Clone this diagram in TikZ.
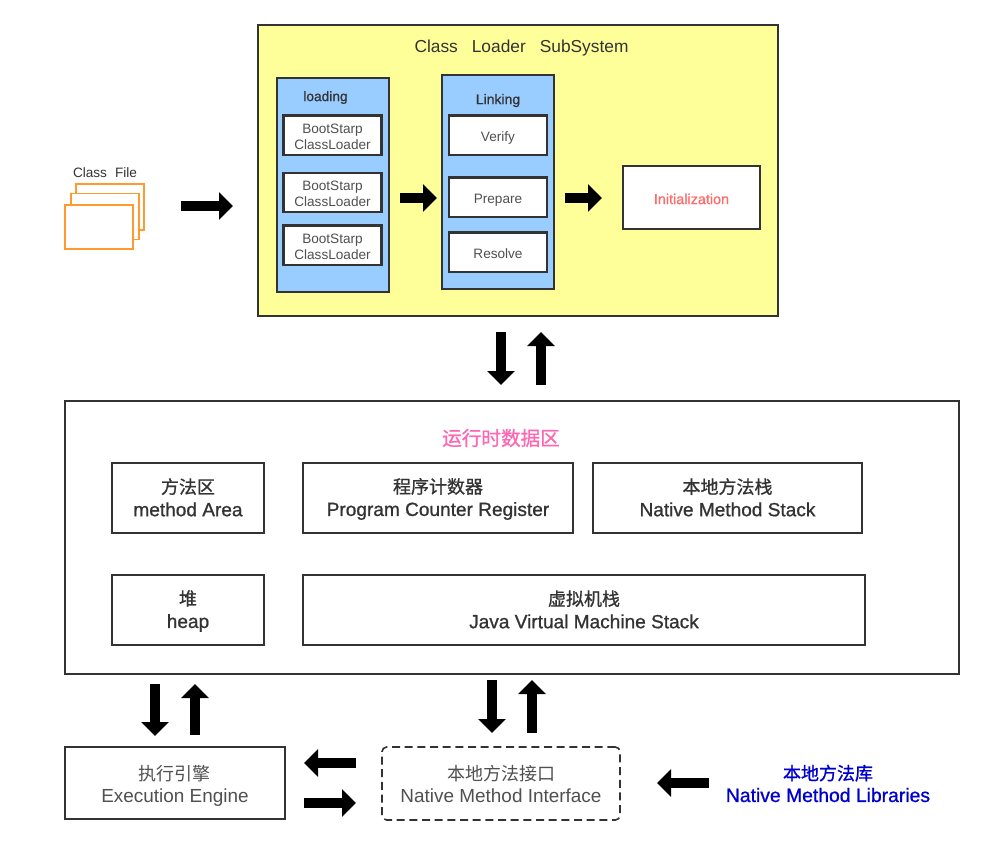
\documentclass[tikz,border=0pt]{standalone}
\usepackage{fontspec}
\setmainfont{Liberation Sans}
\newfontfamily\medfont[FakeBold=0.9]{Liberation Sans}
\newfontfamily\cjk{Noto Sans CJK SC}
\newfontfamily\medcjk[FakeBold=0.9]{Noto Sans CJK SC}
\usetikzlibrary{arrows.meta}
\definecolor{edge}{HTML}{333333}
\definecolor{txt}{HTML}{333333}
\definecolor{softtxt}{HTML}{505050}
\definecolor{yel}{HTML}{FFFF99}
\definecolor{blu}{HTML}{99CCFF}
\definecolor{org}{HTML}{FF9A2E}
\definecolor{pnk}{HTML}{FF66B3}
\definecolor{red1}{HTML}{FF6B6B}
\definecolor{nav}{HTML}{0000CC}
\newcommand{\topk}{0.8}
\newcommand{\topstrut}{\rule{0pt}{\topk em}}
\newcommand{\botstrut}{\rule[-0.18em]{0pt}{0.18em}}
\newcommand{\two}[2]{\topstrut #1\\#2\botstrut}
\newcommand{\cn}[1]{{\cjk\fontsize{13.5}{16.5}\selectfont #1}}
\newcommand{\cnm}[1]{{\medcjk\fontsize{13.5}{17}\selectfont #1}}
\tikzset{
 x=0.75pt,y=-0.75pt,
 box/.style={draw=edge,line width=1.5pt,fill=white,inner sep=0pt,outer sep=0pt,align=center,text=txt,anchor=north west},
 smallbox/.style={box,font=\fontsize{10.2}{12}\selectfont\renewcommand{\topk}{1.1},text=softtxt,line width=1.6pt},
 panel/.style={box,fill=blu,line width=1.5pt},
 bigbox/.style={box,font=\medfont\fontsize{14.3}{17}\selectfont\renewcommand{\topk}{0.9}},
 lightbox/.style={box,line width=1.2pt,font=\fontsize{14.2}{16.5}\selectfont\renewcommand{\topk}{1.07},text=softtxt},
 filebox/.style={draw=org,line width=1.3pt,fill=white,inner sep=0pt,outer sep=0pt,anchor=north west},
 label/.style={inner sep=0pt,outer sep=0pt,align=center},
 blockarrow/.style={draw=black,line width=7pt,-{Triangle[length=10.5pt,width=20pt]}},
}
\begin{document}
\begin{tikzpicture}
\useasboundingbox (0,0) rectangle (983,844);
% Class files
\node[filebox,minimum width=51pt,minimum height=34.5pt] (f3) at (76,184) {};
\node[filebox,minimum width=51pt,minimum height=34.5pt] (f2) at (71,193.5) {};
\node[filebox,minimum width=51pt,minimum height=33pt] (f1) at (65,205) {};
\node[label,text=txt,font=\fontsize{10.2}{11}\selectfont] (cf) at (105,172.5) {Class\hspace{6pt}File};
% Class loader subsystem
\node[box,fill=yel,minimum width=390pt,minimum height=218.25pt] (cls) at (258,25) {};
\node[label,text=txt,font=\fontsize{13}{14}\selectfont] (clst) at (521.5,47.5) {\topstrut Class\hspace{10.5pt}Loader\hspace{10.5pt}SubSystem\botstrut};
\node[panel,minimum width=84pt,minimum height=160.5pt] (load) at (276.5,78) {};
\node[label,text=txt,font=\medfont\fontsize{10.3}{11}\selectfont] (loadt) at (325.5,97) {\topstrut loading\botstrut};
\node[smallbox,minimum width=73.5pt,minimum height=29.5pt] (b1) at (283.5,115.5) {\two{BootStarp}{ClassLoader}};
\node[smallbox,minimum width=73.5pt,minimum height=29.5pt] (b2) at (283.5,173) {\two{BootStarp}{ClassLoader}};
\node[smallbox,minimum width=73.5pt,minimum height=29.5pt] (b3) at (283.5,225.5) {\two{BootStarp}{ClassLoader}};
\node[panel,minimum width=84pt,minimum height=160.5pt] (link) at (442,75) {};
\node[label,text=txt,font=\medfont\fontsize{10.5}{11}\selectfont] (linkt) at (498,100) {\topstrut Linking\botstrut};
\node[smallbox,minimum width=73.5pt,minimum height=29.5pt] (v) at (449,115.5) {\topstrut Verify\botstrut};
\node[smallbox,minimum width=73.5pt,minimum height=29.5pt] (p) at (449,177.5) {\topstrut Prepare\botstrut};
\node[smallbox,minimum width=73.5pt,minimum height=29.5pt] (r) at (449,232.5) {\topstrut Resolve\botstrut};
\node[box,minimum width=102.75pt,minimum height=47.25pt,text=red1,font=\medfont\fontsize{10.8}{11}\selectfont\renewcommand{\topk}{1.1},line width=1.3pt] (init) at (623,166) {\topstrut Initialization\botstrut};
% Runtime data area
\node[box,minimum width=670.5pt,minimum height=204.75pt] (rt) at (65,401) {};
\node[label,text=pnk,font=\medcjk\fontsize{14.7}{16}\selectfont] (rtt) at (501,438) {运行时数据区};
\node[bigbox,minimum width=114pt,minimum height=52.5pt] (m1) at (112,463) {\two{\cnm{方法区}}{method Area}};
\node[bigbox,minimum width=202.5pt,minimum height=52.5pt] (m2) at (303,463) {\two{\cnm{程序计数器}}{Program Counter Register}};
\node[bigbox,minimum width=201.75pt,minimum height=52.5pt] (m3) at (593,463) {\two{\cnm{本地方法栈}}{Native Method Stack}};
\node[bigbox,minimum width=114pt,minimum height=52.5pt] (m4) at (112,575) {\two{\cnm{堆}}{heap}};
\node[bigbox,minimum width=421.5pt,minimum height=52.5pt] (m5) at (303,575) {\two{\cnm{虚拟机栈}}{Java Virtual Machine Stack}};
% Bottom row
\node[lightbox,minimum width=165pt,minimum height=54pt] (ee) at (65,747) {\two{\cn{执行引擎}}{Execution Engine}};
\node[lightbox,dashed,rounded corners=3.5pt,dash pattern=on 6pt off 3.5pt,minimum width=178.5pt,minimum height=54.75pt] (nmi) at (382,747) {\two{\cn{本地方法接口}}{Native Method Interface}};
\node[label,text=nav,font=\medfont\fontsize{14.5}{16.5}\selectfont\renewcommand{\topk}{0.9}] (nml) at (828,784) {\two{\cnm{本地方法库}}{Native Method Libraries}};
% Block arrows
\coordinate (a1s) at (181,206); \coordinate (a1e) at (233,206);
\coordinate (a2s) at (400,198); \coordinate (a2e) at (437,198);
\coordinate (a3s) at (565,198); \coordinate (a3e) at (602,198);
\coordinate (a4s) at (501,332); \coordinate (a4e) at (501,385);
\coordinate (a5s) at (541,385); \coordinate (a5e) at (541,332);
\coordinate (a6s) at (155,684); \coordinate (a6e) at (155,736);
\coordinate (a7s) at (195,735); \coordinate (a7e) at (195,684);
\coordinate (a8s) at (492,680); \coordinate (a8e) at (492,733);
\coordinate (a9s) at (532,733); \coordinate (a9e) at (532,680);
\coordinate (a10s) at (356,763); \coordinate (a10e) at (304,763);
\coordinate (a11s) at (304,803); \coordinate (a11e) at (356,803);
\coordinate (a12s) at (709,783); \coordinate (a12e) at (657,783);
\foreach \k in {1,2,...,12} \draw[blockarrow] (a\k s) -- (a\k e);
\end{tikzpicture}
\end{document}
